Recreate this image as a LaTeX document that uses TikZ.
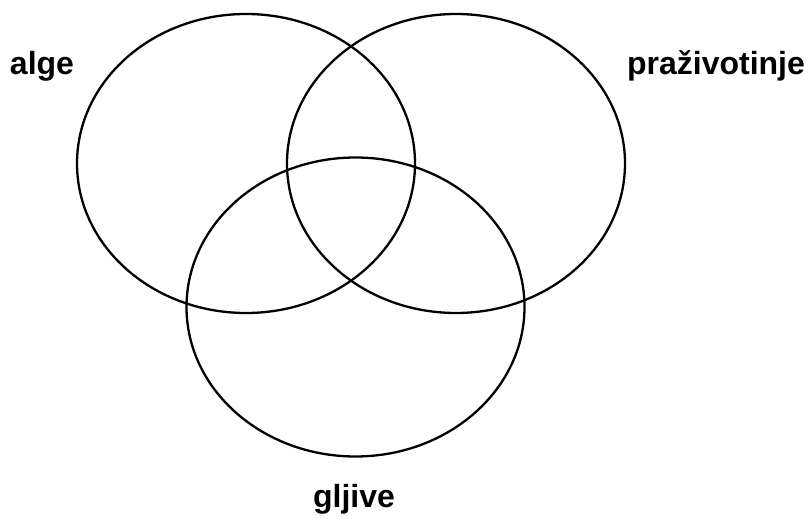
\documentclass[tikz,border=0pt]{standalone}
\usepackage{fontspec}
\setmainfont{Liberation Sans}
\usetikzlibrary{shapes.geometric}
\begin{document}
\begin{tikzpicture}[x=1pt,y=-1pt,
  venn/.style={draw=black, line width=2.3pt, ellipse, inner sep=0pt, outer sep=0pt,
    minimum width=338pt, minimum height=299pt},
  lbl/.style={font=\fontsize{32}{38}\selectfont\bfseries, anchor=base, inner sep=0pt}]
\useasboundingbox (0,0) rectangle (812,519);
\node[venn] (alge) at (246,163.5) {};
\node[venn] (prazivotinje) at (456,163.5) {};
\node[venn] (gljive) at (355.5,307) {};
\node[lbl] (lalge) at (42,75) {alge};
\node[lbl] (lpraz) at (716,75) {praživotinje};
\node[lbl] (lglj) at (354,507) {gljive};
\end{tikzpicture}
\end{document}
